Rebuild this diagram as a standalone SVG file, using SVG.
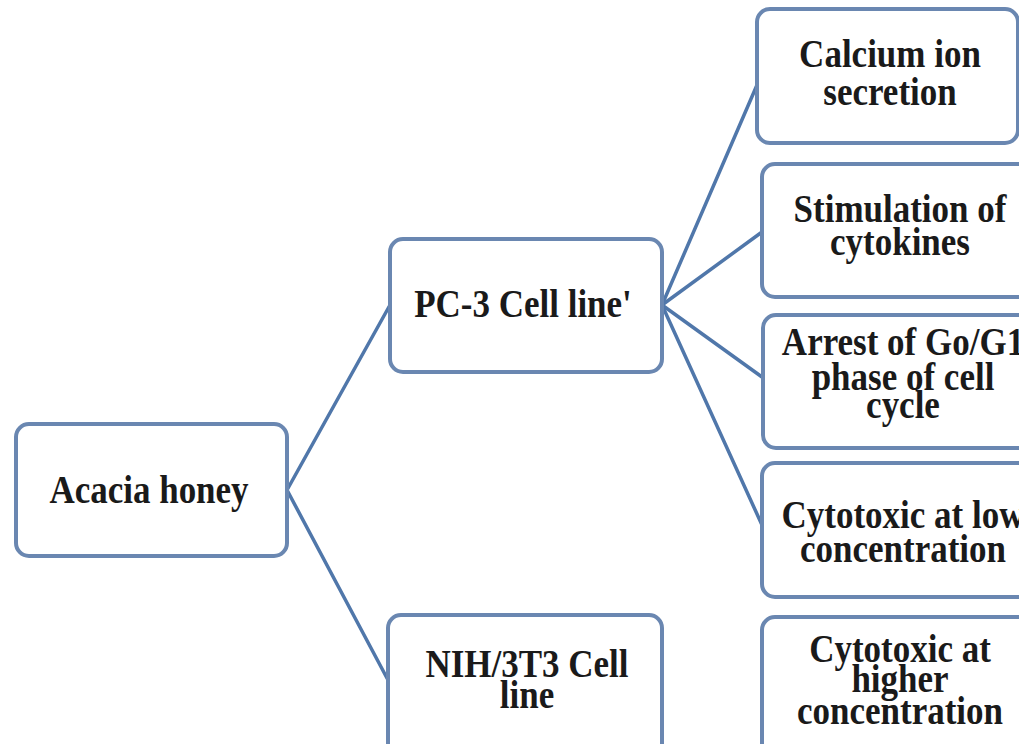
<svg xmlns="http://www.w3.org/2000/svg" width="1019" height="744" viewBox="0 0 1019 744">
<style>
.box{fill:#ffffff;stroke:#6a87b1;stroke-width:4}
.ln{stroke:#5077aa;stroke-width:3.5;fill:none;stroke-linecap:round}
.t{font-family:"Liberation Serif","Times New Roman",serif;font-weight:bold;font-size:35px;fill:#1a1a1a;text-anchor:middle}
</style>
<rect width="1019" height="744" fill="#ffffff"/>
<g id="connectors">
<line class="ln" x1="287" y1="490" x2="390" y2="305"/>
<line class="ln" x1="287" y1="490" x2="388" y2="680"/>
<line class="ln" x1="662" y1="305" x2="757" y2="85"/>
<line class="ln" x1="662" y1="305" x2="762" y2="232"/>
<line class="ln" x1="662" y1="305" x2="762" y2="377"/>
<line class="ln" x1="662" y1="305" x2="762" y2="525"/>
</g>
<g id="acacia">
<rect class="box" x="16" y="424" width="271" height="132" rx="13"/>
<text class="t" transform="translate(149,503) scale(1,1.15)"><tspan x="0" y="0">Acacia honey</tspan></text>
</g>
<g id="pc3">
<rect class="box" x="390" y="239" width="272" height="133" rx="13"/>
<text class="t" transform="translate(523,317) scale(1,1.15)"><tspan x="0" y="0">PC-3 Cell line'</tspan></text>
</g>
<g id="nih">
<rect class="box" x="388" y="615" width="274" height="145" rx="13"/>
<text class="t" transform="translate(527,677) scale(1,1.15)"><tspan x="0" y="0">NIH/3T3 Cell</tspan><tspan x="0" y="27">line</tspan></text>
</g>
<g id="calcium">
<rect class="box" x="757" y="9" width="261" height="134" rx="13"/>
<text class="t" transform="translate(890,67) scale(1,1.15)"><tspan x="0" y="0">Calcium ion</tspan><tspan x="0" y="33">secretion</tspan></text>
</g>
<g id="stimulation">
<rect class="box" x="762" y="164" width="275" height="133" rx="13"/>
<text class="t" transform="translate(900,222) scale(1,1.15)"><tspan x="0" y="0">Stimulation of</tspan><tspan x="0" y="29">cytokines</tspan></text>
</g>
<g id="arrest">
<rect class="box" x="763" y="315" width="275" height="133" rx="13"/>
<text class="t" transform="translate(903,355) scale(1,1.15)"><tspan x="0" y="0">Arrest of Go/G1</tspan><tspan x="0" y="30.4">phase of cell</tspan><tspan x="0" y="54.8">cycle</tspan></text>
</g>
<g id="cytotoxic-low">
<rect class="box" x="762" y="463" width="275" height="134" rx="13"/>
<text class="t" transform="translate(903,528) scale(1,1.15)"><tspan x="0" y="0">Cytotoxic at low</tspan><tspan x="0" y="29.6">concentration</tspan></text>
</g>
<g id="cytotoxic-high">
<rect class="box" x="762" y="617" width="275" height="145" rx="13"/>
<text class="t" transform="translate(900,662) scale(1,1.15)"><tspan x="0" y="0">Cytotoxic at</tspan><tspan x="0" y="26">higher</tspan><tspan x="0" y="54">concentration</tspan></text>
</g>
</svg>
